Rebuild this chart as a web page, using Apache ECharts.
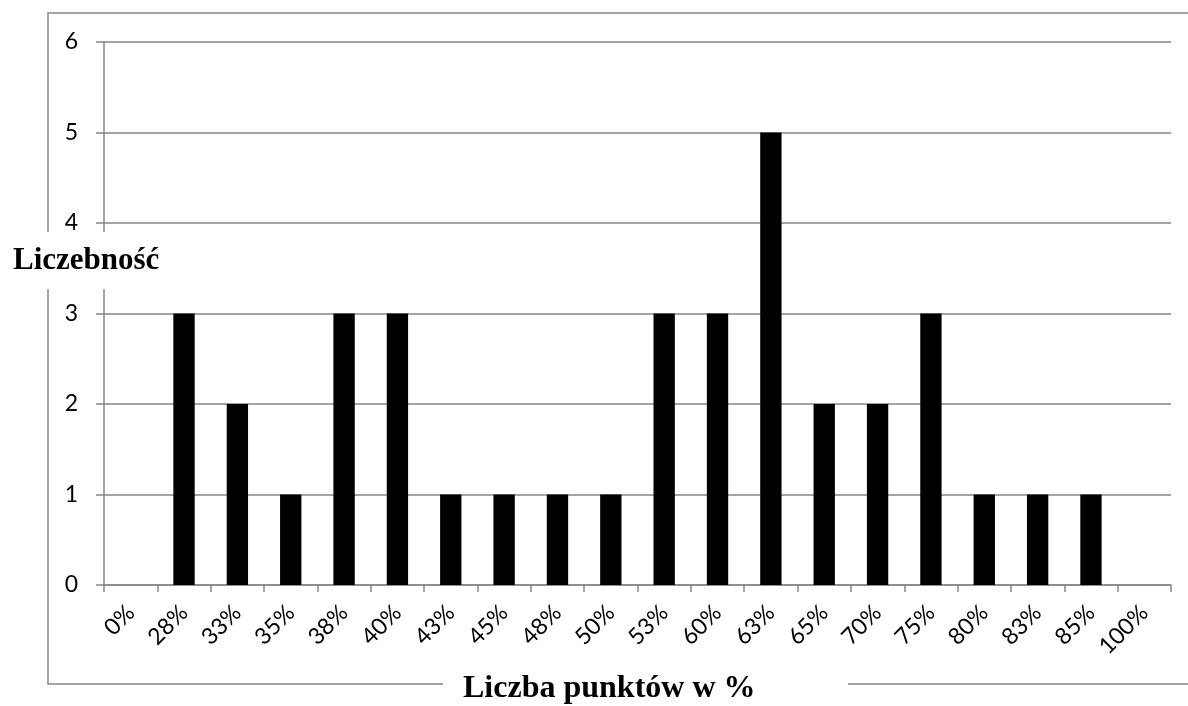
<!DOCTYPE html>
<html>
<head>
<meta charset="utf-8">
<script src="https://cdn.jsdelivr.net/npm/echarts@6/dist/echarts.min.js"></script>
<style>
html,body{margin:0;padding:0;background:#fff;}
#chart{width:1188px;height:706px;}
</style>
</head>
<body>
<div id="chart"></div>
<script>
const categories = ['0%','28%','33%','35%','38%','40%','43%','45%','48%','50%','53%','60%','63%','65%','70%','75%','80%','83%','85%','100%'];
const counts = [0,3,2,1,3,3,1,1,1,1,3,3,5,2,2,3,1,1,1,0];
const yTicks = {min:0, max:6, interval:1};
const yTitle = 'Liczebność';
const xTitle = 'Liczba punktów w %';

const gray = '#868686';
const chart = echarts.init(document.getElementById('chart'));
chart.setOption({
  animation:false,
  backgroundColor:'#fff',
  grid:{left:104, right:17, top:42, bottom:121, containLabel:false},
  xAxis:{
    type:'category',
    data:categories,
    boundaryGap:true,
    axisLine:{show:true, lineStyle:{color:gray, width:1.5}},
    axisTick:{show:true, length:7, alignWithLabel:false, lineStyle:{color:gray, width:1.5}},
    axisLabel:{rotate:45, margin:24, interval:0, fontFamily:'Lato', fontSize:23, color:'#000'}
  },
  yAxis:{
    type:'value',
    min:yTicks.min, max:yTicks.max, interval:yTicks.interval,
    axisLine:{show:true, lineStyle:{color:gray, width:1.5}},
    axisTick:{show:true, length:8, lineStyle:{color:gray, width:1.5}},
    splitLine:{show:true, lineStyle:{color:gray, width:1.5}},
    axisLabel:{margin:26, fontFamily:'Lato', fontSize:23, color:'#000'}
  },
  series:[{
    type:'bar',
    data:counts,
    barWidth:'40%',
    itemStyle:{color:'#000'}
  }],
  graphic:[
    {type:'rect', z:-10, shape:{x:48, y:13, width:1200, height:671}, style:{fill:'none', stroke:gray, lineWidth:1.5}},
    {type:'rect', z:100, shape:{x:40, y:232, width:130, height:57}, style:{fill:'#fff'}},
    {type:'text', z:101, style:{text:yTitle, x:13, y:261, textAlign:'left', textVerticalAlign:'middle', font:'bold 31px "Liberation Serif"', fill:'#000'}},
    {type:'rect', z:100, shape:{x:443, y:670, width:405, height:36}, style:{fill:'#fff'}},
    {type:'text', z:101, style:{text:xTitle, x:463, y:689, textAlign:'left', textVerticalAlign:'middle', font:'bold 32px "Liberation Serif"', fill:'#000'}}
  ]
});
</script>
</body>
</html>
